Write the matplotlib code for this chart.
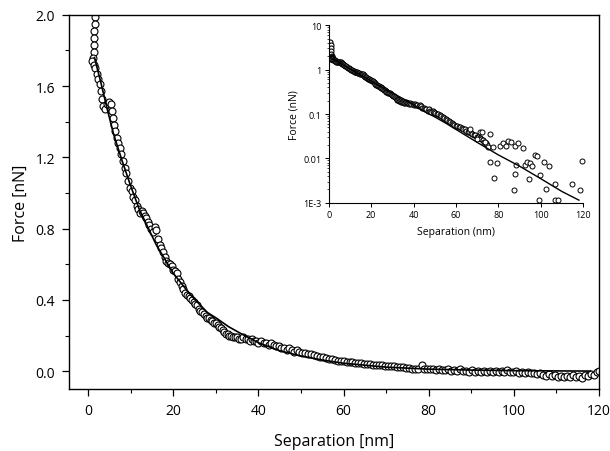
import matplotlib
matplotlib.use("Agg")
import matplotlib.pyplot as plt
from matplotlib.ticker import MultipleLocator, FixedLocator, NullFormatter
import numpy as np

plt.rcParams['font.family'] = ['Open Sans', 'DejaVu Sans']

# ---------------- data ----------------
sep_main = [1.6, 1.6, 1.5, 1.5, 1.4, 1.3, 1.2, 1.0, 1.3, 1.7, 2.1, 2.4, 2.7, 3.0, 3.3, 3.5, 3.9, 4.4,
            4.9, 5.3, 5.6, 5.8, 6.1, 6.4, 6.7, 7.0, 7.4, 7.8, 8.2, 8.6, 9.0, 9.4, 9.8, 10.2, 10.6, 11.0,
            11.4, 11.8, 12.2, 12.6, 13.0, 13.3, 13.6, 14.0, 14.4, 14.8, 15.2, 15.6, 16.0, 16.4, 16.8,
            17.2, 17.6, 18.0, 18.4, 18.8, 19.2, 19.6, 20.0, 20.4, 20.8, 21.2, 21.6, 22.0, 22.4, 22.8,
            23.2, 23.6, 24.0, 24.4, 24.8, 25.2, 25.6, 26.0, 26.4, 26.8, 27.2, 27.6, 28.0, 28.4, 28.8,
            29.2, 29.6, 30.0, 30.4, 30.8, 31.2, 31.6, 32.0, 32.4, 32.8, 33.2, 33.6, 34.0, 34.5, 35.0,
            35.5, 36.0, 36.5, 37.0, 37.5, 38.0, 38.5, 39.0, 39.5, 40.0, 40.6, 41.2, 41.8, 42.4, 43.0,
            43.6, 44.2, 44.8, 45.4, 46.0, 46.6, 47.2, 47.8, 48.4, 49.0, 49.6,
            50.2, 50.9, 51.6, 52.3, 53.0, 53.7, 54.4, 55.1, 55.8, 56.5, 57.2, 57.9, 58.6, 59.3, 60.0,
            60.7, 61.4, 62.1, 62.8, 63.5, 64.2, 64.9, 65.6, 66.3, 67.0, 67.7, 68.4, 69.1, 69.8, 70.5,
            71.2, 71.9, 72.6, 73.3, 74.0, 74.7, 75.4, 76.1, 76.8, 77.5, 78.5, 78.9, 79.6, 80.3, 81.0,
            81.7, 82.4, 83.1, 83.8, 84.5, 85.2, 85.9, 86.6, 87.3, 88.0, 88.7, 89.4, 90.1, 90.8, 91.5,
            92.2, 92.9, 93.6, 94.3, 95.0, 95.7, 96.4, 97.1, 97.8, 98.5, 99.2, 99.9, 100.6, 101.3,
            102.0, 102.7, 103.4, 104.1, 104.8, 105.5, 106.2, 106.9, 107.6, 108.3, 109.0, 109.7,
            110.4, 111.1, 111.8, 112.5, 113.2, 113.9, 114.6, 115.3, 116.0, 116.7, 117.4, 118.1,
            118.8, 119.5, 120.0]
force_main = [1.99, 1.95, 1.91, 1.87, 1.83, 1.79, 1.76, 1.74, 1.72, 1.70, 1.67, 1.64, 1.61, 1.57, 1.53,
              1.49, 1.47, 1.50, 1.51, 1.50, 1.46, 1.42, 1.38, 1.35, 1.31, 1.28, 1.25, 1.22, 1.18, 1.14,
              1.11, 1.07, 1.03, 1.01, 0.98, 0.96, 0.93, 0.91, 0.89, 0.90, 0.89, 0.87, 0.86, 0.84, 0.82,
              0.80, 0.78, 0.81, 0.79, 0.74, 0.71, 0.69, 0.67, 0.64, 0.62, 0.61, 0.60, 0.59, 0.57, 0.56,
              0.55, 0.52, 0.50, 0.48, 0.46, 0.44, 0.43, 0.42, 0.41, 0.40, 0.39, 0.38, 0.37, 0.35, 0.34,
              0.33, 0.32, 0.31, 0.30, 0.30, 0.29, 0.28, 0.27, 0.27, 0.26, 0.25, 0.24, 0.23, 0.22, 0.21,
              0.21, 0.20, 0.20, 0.19, 0.19, 0.19, 0.18, 0.18, 0.19, 0.18, 0.18, 0.17, 0.18, 0.17, 0.17,
              0.16, 0.17, 0.16, 0.16, 0.15, 0.16, 0.15, 0.14, 0.14, 0.13, 0.13, 0.12, 0.13, 0.12, 0.11,
              0.12, 0.11,
              0.105, 0.10, 0.098, 0.095, 0.09, 0.085, 0.08, 0.078, 0.072, 0.07, 0.066, 0.063, 0.06,
              0.058, 0.055, 0.053, 0.052, 0.05, 0.048, 0.046, 0.045, 0.042, 0.04, 0.039, 0.037, 0.036,
              0.034, 0.033, 0.031, 0.030, 0.029, 0.028, 0.026, 0.024, 0.022, 0.020, 0.017, 0.014,
              0.012, 0.012, 0.035, 0.010, 0.011, 0.012, 0.010, 0.009, 0.013, 0.008, 0.006, 0.012,
              0.004, 0.008, 0.003, 0.012, 0.000, 0.004, -0.002, 0.005, -0.003, 0.002, -0.004, 0.004,
              -0.002, 0.000, -0.005, 0.003, -0.004, 0.000, -0.006, 0.006, -0.003, -0.006, 0.000,
              -0.008, -0.004, -0.010, -0.006, -0.012, -0.008, -0.014, -0.010, -0.020, -0.025, -0.018,
              -0.028, -0.022, -0.030, -0.026, -0.034, -0.026, -0.030, -0.022, -0.034, -0.026, -0.036,
              -0.020, -0.028, -0.014, -0.022, -0.006, 0.004]

sep_fit = [1.5, 3, 4.5, 6, 8, 10, 12, 14, 16, 18, 20, 22, 24, 26, 28, 30, 33, 36, 40, 45, 50,
           55, 60, 70, 80, 90, 100, 110, 118]
force_fit = [1.76, 1.62, 1.47, 1.33, 1.18, 1.04, 0.91, 0.81, 0.71, 0.63, 0.55, 0.49, 0.43, 0.38,
             0.33, 0.30, 0.25, 0.21, 0.16, 0.115, 0.086, 0.063, 0.045, 0.023, 0.012, 0.0067,
             0.0035, 0.0018, 0.00115]

# inset: extra points only visible on the log scale
sep_spike = [0.8, 0.9, 0.9, 1.0, 1.1]
force_spike = [4.1, 3.5, 3.0, 2.6, 2.2]
sep_tail = [66.6, 69.8, 71.3, 72.5, 73.7, 75.3, 76.1, 76.1, 77.7, 78.1, 79.5, 81.0, 82.4, 83.6,
            84.7, 85.8, 87.9, 88.2, 87.9, 87.5, 89.4, 91.8, 92.6, 93.4, 95.0, 95.7, 94.6, 97.3,
            98.1, 99.4, 99.7, 101.6, 103.9, 102.5, 106.5, 107.9, 106.8, 114.6, 118.3, 119.4]
force_tail = [0.046, 0.0275, 0.039, 0.040, 0.023, 0.018, 0.0357, 0.0085, 0.018, 0.0036, 0.0079,
              0.019, 0.0224, 0.0195, 0.0252, 0.0232, 0.0195, 0.0073, 0.0045, 0.0019, 0.0224,
              0.017, 0.0072, 0.0082, 0.0078, 0.0069, 0.0035, 0.012, 0.0116, 0.00115, 0.0043,
              0.0082, 0.0069, 0.0020, 0.00115, 0.00115, 0.0027, 0.0027, 0.0019, 0.0089]

# ---------------- figure ----------------
fig = plt.figure(figsize=(6.10, 4.52), dpi=100)
ax = fig.add_axes([0.113, 0.137, 0.869, 0.828])

ax.plot(sep_main, force_main, 'o', ms=5.0, mfc='white', mec='black', mew=0.8, zorder=2)
ax.plot(sep_fit, force_fit, '-', color='black', lw=1.2, zorder=3)

ax.set_xlim(-4.5, 120)
ax.set_ylim(-0.1, 2.0)
ax.xaxis.set_major_locator(MultipleLocator(20))
ax.xaxis.set_minor_locator(MultipleLocator(10))
ax.yaxis.set_major_locator(MultipleLocator(0.4))
ax.yaxis.set_minor_locator(MultipleLocator(0.2))
ax.yaxis.set_major_formatter(matplotlib.ticker.FormatStrFormatter('%.1f'))
ax.tick_params(which='major', direction='out', length=5, width=0.9, labelsize=10, pad=5,
               top=False, right=False)
ax.tick_params(which='minor', direction='out', length=3, width=0.8, top=False, right=False)
for s in ax.spines.values():
    s.set_linewidth(1.0)
ax.set_xlabel('Separation [nm]', fontsize=11.5, labelpad=11)
ax.set_ylabel('Force [nN]', fontsize=11.5, labelpad=5)

# ---------------- inset ----------------
ins = fig.add_axes([0.539, 0.549, 0.417, 0.393])
sep_in = [s for s, f in zip(sep_main, force_main) if s <= 75 and f > 0]
force_in = [f for s, f in zip(sep_main, force_main) if s <= 75 and f > 0]
ins.plot(sep_spike, force_spike, 'o', ms=3.6, mfc='white', mec='black', mew=0.8)
ins.plot(sep_in, force_in, 'o', ms=3.6, mfc='white', mec='black', mew=0.8)
ins.plot(sep_tail, force_tail, 'o', ms=3.6, mfc='white', mec='black', mew=0.7, clip_on=False)
ins.plot(sep_fit, force_fit, '-', color='black', lw=1.0)
ins.set_yscale('log')
ins.set_xlim(0, 120)
ins.set_ylim(1e-3, 10)
ins.xaxis.set_major_locator(MultipleLocator(20))
ins.yaxis.set_major_locator(FixedLocator([1e-3, 1e-2, 1e-1, 1, 10]))
ins.set_yticklabels(['1E-3', '0.01', '0.1', '1', '10'])
ins.yaxis.set_minor_formatter(NullFormatter())
ins.spines['top'].set_visible(False)
ins.spines['right'].set_visible(False)
for s in ['left', 'bottom']:
    ins.spines[s].set_linewidth(0.8)
ins.tick_params(which='major', direction='out', length=3, width=0.7, labelsize=6.5, pad=2)
ins.tick_params(which='minor', direction='out', length=1.5, width=0.5)
ins.set_xlabel('Separation (nm)', fontsize=7.5, labelpad=5)
ins.set_ylabel('Force (nN)', fontsize=7.5, labelpad=3)

fig.savefig('out.png', dpi=100)
